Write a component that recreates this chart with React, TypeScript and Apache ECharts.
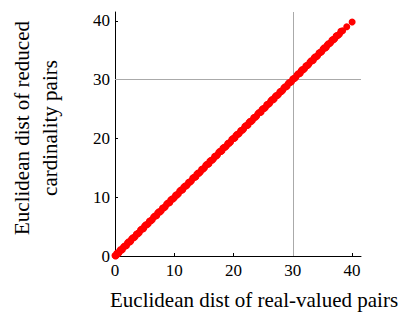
import React, { useEffect, useRef } from "react";
import * as echarts from "echarts";

const xValues = [0.0,0.1,0.3,0.5,0.8,1.1,1.4,1.8,2.1,2.5,2.8,3.2,3.6,3.9,4.3,4.7,5.0,5.4,5.8,6.1,6.5,6.9,7.2,7.6,8.0,8.3,8.7,9.1,9.4,9.8,10.2,10.5,10.9,11.3,11.6,12.0,12.4,12.7,13.1,13.5,13.8,14.2,14.6,14.9,15.3,15.7,16.0,16.4,16.8,17.1,17.5,17.9,18.2,18.6,19.0,19.3,19.7,20.1,20.4,20.8,21.2,21.5,21.9,22.3,22.6,23.0,23.4,23.7,24.1,24.5,24.8,25.2,25.6,25.9,26.3,26.7,27.0,27.4,27.8,28.1,28.5,28.9,29.2,29.6,30.0,30.3,30.7,31.1,31.4,31.8,32.2,32.5,32.9,33.3,33.6,34.0,34.4,34.7,35.1,35.5,35.8,36.2,36.6,36.9,37.3,37.6,38.1,38.4,39.1,40.0];
const yValues = [0.1,0.0,0.4,0.4,0.9,1.0,1.5,1.7,2.2,2.4,2.9,3.1,3.7,3.8,4.4,4.6,5.1,5.3,5.9,6.0,6.6,6.8,7.3,7.5,8.1,8.2,8.8,9.0,9.5,9.7,10.3,10.4,11.0,11.2,11.7,11.9,12.5,12.6,13.2,13.4,13.9,14.1,14.7,14.8,15.4,15.6,16.1,16.3,16.9,17.0,17.6,17.8,18.3,18.5,19.1,19.2,19.8,20.0,20.5,20.7,21.3,21.4,22.0,22.2,22.7,22.9,23.5,23.6,24.2,24.4,24.9,25.1,25.7,25.8,26.4,26.6,27.1,27.3,27.9,28.0,28.6,28.8,29.3,29.5,30.1,30.2,30.8,31.0,31.5,31.7,32.3,32.4,33.0,33.2,33.7,33.9,34.5,34.6,35.2,35.4,35.9,36.1,36.7,36.8,37.4,37.5,38.2,38.3,39.0,39.8];
const xValuesB = [0.2,0.4,0.65,0.95,1.25,1.6,1.95,2.3,2.65,3.0,3.4,3.75,4.1,4.5,4.85,5.2,5.6,5.95,6.3,6.7,7.05,7.4,7.8,8.15,8.5,8.9,9.25,9.6,10.0,10.35,10.7,11.1,11.45,11.8,12.2,12.55,12.9,13.3,13.65,14.0,14.4,14.75,15.1,15.5,15.85,16.2,16.6,16.95,17.3,17.7,18.05,18.4,18.8,19.15,19.5,19.9,20.25,20.6,21.0,21.35,21.7,22.1,22.45,22.8,23.2,23.55,23.9,24.3,24.65,25.0,25.4,25.75,26.1,26.5,26.85,27.2,27.6,27.95,28.3,28.7,29.05,29.4,29.8,30.15,30.5,30.9,31.25,31.6,32.0,32.35,32.7,33.1,33.45,33.8,34.2,34.55,34.9,35.3,35.65,36.0,36.4,36.75,37.1,37.45,37.85];
const yValuesB = [0.1,0.5,0.5,1.1,1.1,1.7,1.8,2.4,2.5,3.1,3.3,3.8,4.0,4.6,4.7,5.3,5.5,6.0,6.2,6.8,6.9,7.5,7.7,8.2,8.4,9.0,9.1,9.7,9.9,10.4,10.6,11.2,11.3,11.9,12.1,12.6,12.8,13.4,13.5,14.1,14.3,14.8,15.0,15.6,15.7,16.3,16.5,17.0,17.2,17.8,17.9,18.5,18.7,19.2,19.4,20.0,20.1,20.7,20.9,21.4,21.6,22.2,22.3,22.9,23.1,23.6,23.8,24.4,24.5,25.1,25.3,25.8,26.0,26.6,26.7,27.3,27.5,28.0,28.2,28.8,28.9,29.5,29.7,30.2,30.4,31.0,31.1,31.7,31.9,32.4,32.6,33.2,33.3,33.9,34.1,34.6,34.8,35.4,35.5,36.1,36.3,36.8,37.0,37.5,37.7];
const tickValues = [0, 10, 20, 30, 40];
const refX = 30;
const refY = 30;
const xTitle = "Euclidean dist of real-valued pairs";
const yTitle = "Euclidean dist of reduced\ncardinality pairs";

export default function App() {
  const ref = useRef<HTMLDivElement>(null);
  useEffect(() => {
    const chart = echarts.init(ref.current!, null, { renderer: "svg" });
    const font = "Liberation Serif";
    const axisCommon = (extra: any) => ({
      type: "value",
      min: 0,
      max: 41.5,
      interval: 10,
      splitLine: { show: false },
      axisLine: { show: true, lineStyle: { color: "#000", width: 1 } },
      axisTick: { show: true, inside: true, length: 3, customValues: tickValues, lineStyle: { color: "#000" } },
      axisLabel: { customValues: tickValues, color: "#000", fontFamily: font, fontSize: 17, ...extra },
    });
    const pts = xValues.map((x, i) => [x, yValues[i]]).concat(xValuesB.map((x, i) => [x, yValuesB[i]]));
    chart.setOption({
      animation: false,
      grid: { left: 115, right: 41, top: 12, bottom: 56 },
      xAxis: axisCommon({ margin: 6 }),
      yAxis: axisCommon({ margin: 5 }),
      graphic: [
        {
          type: "text",
          left: 110,
          top: 289,
          style: { text: xTitle, fontFamily: font, fontSize: 21, fill: "#000" },
        },
        {
          type: "text",
          x: 36,
          y: 128,
          rotation: Math.PI / 2,
          style: {
            text: yTitle,
            fontFamily: font,
            fontSize: 21,
            fill: "#000",
            align: "center",
            verticalAlign: "middle",
            lineHeight: 28,
          },
        },
      ],
      series: [
        {
          type: "scatter",
          data: pts,
          symbolSize: 7,
          itemStyle: { color: "#ff0000", opacity: 1 },
          z: 3,
          markLine: {
            silent: true,
            symbol: "none",
            label: { show: false },
            lineStyle: { color: "#aaaaaa", width: 1, type: "solid" },
            data: [{ xAxis: refX }, { yAxis: refY }],
            z: 1,
          },
        },
      ],
    });
    return () => chart.dispose();
  }, []);
  return <div ref={ref} style={{ width: 402, height: 312, position: "absolute", left: 0, top: 0 }} />;
}
